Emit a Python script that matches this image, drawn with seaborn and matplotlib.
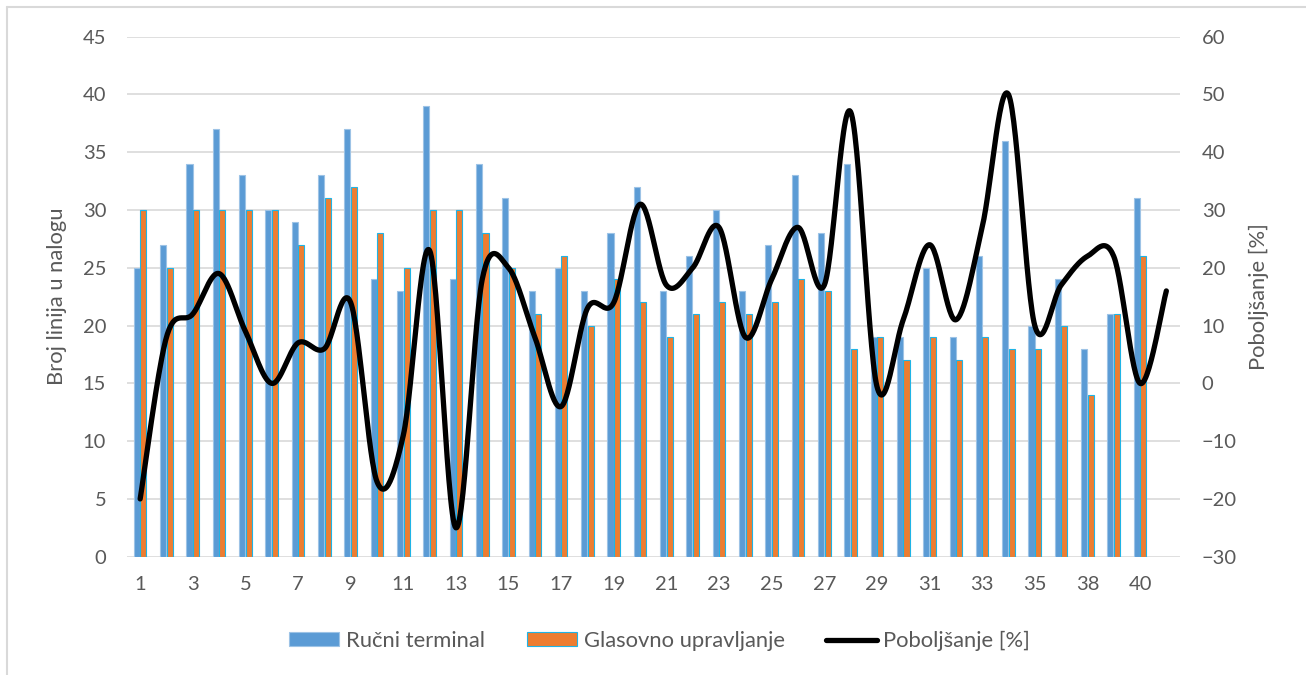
import numpy as np
import pandas as pd
import matplotlib
matplotlib.use("Agg")
import matplotlib.pyplot as plt
import seaborn as sns
from matplotlib.lines import Line2D
from matplotlib.patches import Patch

# ---------------- data ----------------
linije = [str(i) for i in range(1, 36)] + ["37", "38", "39", "40", "41"]
rucni_terminal = [25, 27, 34, 37, 33, 30, 29, 33, 37, 24, 23, 39, 24, 34, 31, 23, 25, 23, 28, 32,
                  23, 26, 30, 23, 27, 33, 28, 34, 19, 19, 25, 19, 26, 36, 20, 24, 18, 21, 31, np.nan]
glasovno_upravljanje = [30, 25, 30, 30, 30, 30, 27, 31, 32, 28, 25, 30, 30, 28, 25, 21, 26, 20, 24, 22,
                        19, 21, 22, 21, 22, 24, 23, 18, 19, 17, 19, 17, 19, 18, 18, 20, 14, 21, 26, np.nan]
poboljsanje = [-20, 8, 12, 19, 9, 0, 7, 6, 14, -17, -9, 23, -25, 18, 20, 8, -4, 13, 14, 31,
               17, 20, 27, 8, 18, 27, 17, 47, -0.5, 11, 24, 11, 27, 50, 10, 17, 22, 22, 0, 16]

serije = ["Ručni terminal", "Glasovno upravljanje"]
line_name = "Poboljšanje [%]"

# ---------------- style ----------------
sns.set_theme(style="white")
plt.rcParams["font.family"] = ["Lato", "DejaVu Sans"]
TXT = "#595959"
GRID = "#D9D9D9"
BLUE = "#5B9BD5"
ORANGE = "#ED7D31"
edge_cols = ["#9DC3E6", "#1FB4E6"]
TICK_FS = 14.5
LAB_FS = 15.8

W, H = 1306, 675
fig = plt.figure(figsize=(W / 100, H / 100), dpi=100)
left, right, top, bottom = 127, 1179.5, 36.7, 556.7
ax = fig.add_axes([left / W, 1 - bottom / H, (right - left) / W, (bottom - top) / H])

df = pd.DataFrame({
    "Linija": linije * 2,
    "Serija": [serije[0]] * len(linije) + [serije[1]] * len(linije),
    "Broj": rucni_terminal + glasovno_upravljanje,
}).dropna()

sns.barplot(data=df, x="Linija", y="Broj", hue="Serija", order=linije, hue_order=serije,
            palette={serije[0]: BLUE, serije[1]: ORANGE}, saturation=1,
            width=0.5, gap=0.08, ax=ax, legend=False)
for cont, ec in zip(ax.containers, edge_cols):
    for bar in cont:
        bar.set_edgecolor(ec)
        bar.set_linewidth(0.8)

ax.set_xlim(-0.5, len(linije) - 0.5)
ax.set_ylim(0, 45)
ax.set_yticks(np.arange(0, 46, 5))
ax.set_xticks(range(0, len(linije), 2))
ax.set_xticklabels(linije[0::2])
ax.yaxis.grid(True, color=GRID, lw=1.2)
ax.set_axisbelow(True)
for s in ax.spines.values():
    s.set_visible(False)
ax.tick_params(axis="both", length=0, labelsize=TICK_FS, labelcolor=TXT)
ax.tick_params(axis="y", pad=15)
ax.tick_params(axis="x", pad=14)
ax.set_xlabel("")
ax.set_ylabel("Broj linija u nalogu", fontsize=LAB_FS, color=TXT)
ax.yaxis.set_label_coords(-0.057, 0.5)

# ---------------- smoothed line (Catmull-Rom, like Excel smoothing) ----------------
ax2 = ax.twinx()
p = np.asarray(poboljsanje, dtype=float)
xi = np.arange(len(p), dtype=float)
xs, ys = [], []
n = len(p)
for i in range(n - 1):
    x0, x1 = xi[i], xi[i + 1]
    y0, y1 = p[i], p[i + 1]
    ym = p[i - 1] if i > 0 else y0
    yp = p[i + 2] if i + 2 < n else y1
    xm = xi[i - 1] if i > 0 else x0
    xp = xi[i + 2] if i + 2 < n else x1
    c1x, c1y = x0 + (x1 - xm) / 6, y0 + (y1 - ym) / 6
    c2x, c2y = x1 - (xp - x0) / 6, y1 - (yp - y0) / 6
    t = np.linspace(0, 1, 30, endpoint=(i == n - 2))
    bx = (1 - t) ** 3 * x0 + 3 * (1 - t) ** 2 * t * c1x + 3 * (1 - t) * t ** 2 * c2x + t ** 3 * x1
    by = (1 - t) ** 3 * y0 + 3 * (1 - t) ** 2 * t * c1y + 3 * (1 - t) * t ** 2 * c2y + t ** 3 * y1
    xs.append(bx)
    ys.append(by)
xs = np.concatenate(xs)
ys = np.concatenate(ys)
sns.lineplot(x=xs, y=ys, ax=ax2, color="black", lw=3.8, sort=False, estimator=None,
             solid_capstyle="round", solid_joinstyle="round")
ax2.set_ylim(-30, 60)
ax2.set_yticks(np.arange(-30, 61, 10))
for s in ax2.spines.values():
    s.set_visible(False)
ax2.tick_params(axis="y", length=0, labelsize=TICK_FS, labelcolor=TXT, pad=16)
ax2.set_ylabel("Poboljšanje [%]", fontsize=LAB_FS, color=TXT)
ax2.yaxis.set_label_coords(1.066, 0.5)
ax2.grid(False)
ax.set_xlim(-0.5, len(linije) - 0.5)

# ---------------- legend ----------------
handles = [Patch(facecolor=BLUE, edgecolor=edge_cols[0], lw=0.8),
           Patch(facecolor=ORANGE, edgecolor=edge_cols[1], lw=0.8),
           Line2D([0], [0], color="black", lw=3.8)]
leg = fig.legend(handles, serije + [line_name], loc="center", ncol=3,
                 bbox_to_anchor=(0.505, 1 - 641 / H), frameon=False, fontsize=LAB_FS,
                 handlelength=2.3, handleheight=0.6, handletextpad=0.3, columnspacing=1.9)
for t in leg.get_texts():
    t.set_color(TXT)

# chart-area border (top and left visible)
fig.add_artist(Line2D([7 / W, 7 / W], [0, 1 - 7 / H], transform=fig.transFigure, color=GRID, lw=1.5))
fig.add_artist(Line2D([7 / W, 1], [1 - 7 / H, 1 - 7 / H], transform=fig.transFigure, color=GRID, lw=1.5))

fig.savefig("out.png", dpi=100)
